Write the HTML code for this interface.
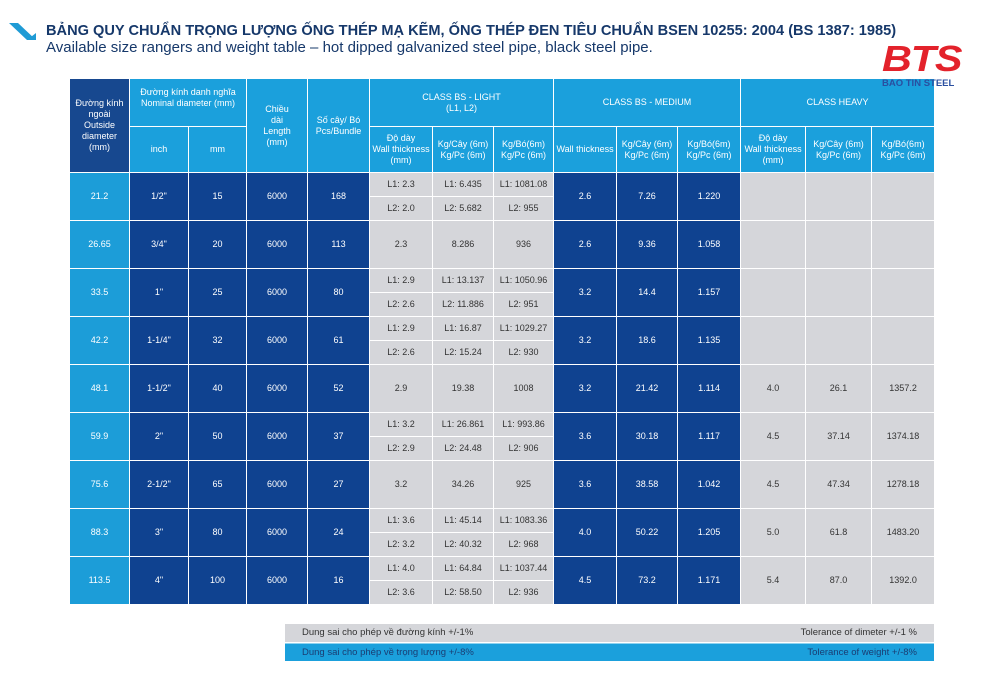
<!DOCTYPE html>
<html><head><meta charset="utf-8"><style>
body{margin:0;width:994px;height:686px;background:#fff;position:relative;overflow:hidden;font-family:"Liberation Sans Narrow","Liberation Sans",sans-serif}
.t1{position:absolute;left:46px;top:23px;font:bold 14.6px "Liberation Sans",sans-serif;color:#16386a;white-space:nowrap;letter-spacing:0px}
.t2{position:absolute;left:46px;top:39px;font:15px "Liberation Sans",sans-serif;color:#16386a;white-space:nowrap}
table{position:absolute;left:69px;top:78px;border-collapse:collapse;table-layout:fixed;width:865px}
td{border:1px solid rgba(255,255,255,.55);text-align:center;vertical-align:middle;font-size:9px;color:#fff;padding:0;line-height:11px;overflow:hidden}
.h{background:#1ba0dc}.hd{background:#17488f}
.o{background:#1c9dd8}.n{background:#0f4290}
.g{background:#d5d6da;color:#333}
.hv{background:#d5d6da;color:#333}
.foot{position:absolute;left:285px;width:649px;height:18px;font-size:9.5px;line-height:18px;box-sizing:border-box;padding:0 17px}
.logo{position:absolute;z-index:5}
</style></head><body>
<svg style="position:absolute;left:9px;top:23px" width="28" height="18"><polygon points="0,0 9,0 27,17 18,17" fill="#1f9bd5"/><polygon points="18,17 27,17 27,10" fill="#1f9bd5"/></svg>
<div class="t1">BẢNG QUY CHUẨN TRỌNG LƯỢNG ỐNG THÉP MẠ KẼM, ỐNG THÉP ĐEN TIÊU CHUẨN BSEN 10255: 2004 (BS 1387: 1985)</div>
<div class="t2">Available size rangers and weight table – hot dipped galvanized steel pipe, black steel pipe.</div>
<table>
<colgroup><col style="width:60px"><col style="width:59px"><col style="width:58px"><col style="width:61px"><col style="width:62px"><col style="width:63px"><col style="width:61px"><col style="width:60px"><col style="width:63px"><col style="width:61px"><col style="width:63px"><col style="width:65px"><col style="width:66px"><col style="width:63px"></colgroup>
<tr style="height:48px"><td class="hd" rowspan="2">Đường kính ngoài<br>Outside diameter<br>(mm)</td><td class="h" colspan="2" style="vertical-align:top;padding-top:8px">Đường kính danh nghĩa<br>Nominal diameter (mm)</td><td class="h" rowspan="2">Chiều<br>dài<br>Length<br>(mm)</td><td class="h" rowspan="2">Số cây/ Bó<br>Pcs/Bundle</td><td class="h" colspan="3">CLASS BS - LIGHT<br>(L1, L2)</td><td class="h" colspan="3">CLASS BS - MEDIUM</td><td class="h" colspan="3">CLASS HEAVY</td></tr>
<tr style="height:46px"><td class="h">inch</td><td class="h">mm</td><td class="h">Độ dày<br>Wall thickness<br>(mm)</td><td class="h">Kg/Cây (6m)<br>Kg/Pc (6m)</td><td class="h">Kg/Bó(6m)<br>Kg/Pc (6m)</td><td class="h">Wall thickness</td><td class="h">Kg/Cây (6m)<br>Kg/Pc (6m)</td><td class="h">Kg/Bó(6m)<br>Kg/Pc (6m)</td><td class="h">Độ dày<br>Wall thickness<br>(mm)</td><td class="h">Kg/Cây (6m)<br>Kg/Pc (6m)</td><td class="h">Kg/Bó(6m)<br>Kg/Pc (6m)</td></tr>

<tr style="height:24px"><td class="o" rowspan="2">21.2</td><td class="n" rowspan="2">1/2"</td><td class="n" rowspan="2">15</td><td class="n" rowspan="2">6000</td><td class="n" rowspan="2">168</td><td class="g">L1: 2.3</td><td class="g">L1: 6.435</td><td class="g">L1: 1081.08</td><td class="n" rowspan="2">2.6</td><td class="n" rowspan="2">7.26</td><td class="n" rowspan="2">1.220</td><td class="hv" rowspan="2"></td><td class="hv" rowspan="2"></td><td class="hv" rowspan="2"></td></tr>
<tr style="height:24px"><td class="g">L2: 2.0</td><td class="g">L2: 5.682</td><td class="g">L2: 955</td></tr>

<tr style="height:48px"><td class="o">26.65</td><td class="n">3/4"</td><td class="n">20</td><td class="n">6000</td><td class="n">113</td><td class="g">2.3</td><td class="g">8.286</td><td class="g">936</td><td class="n">2.6</td><td class="n">9.36</td><td class="n">1.058</td><td class="hv"></td><td class="hv"></td><td class="hv"></td></tr>

<tr style="height:24px"><td class="o" rowspan="2">33.5</td><td class="n" rowspan="2">1"</td><td class="n" rowspan="2">25</td><td class="n" rowspan="2">6000</td><td class="n" rowspan="2">80</td><td class="g">L1: 2.9</td><td class="g">L1: 13.137</td><td class="g">L1: 1050.96</td><td class="n" rowspan="2">3.2</td><td class="n" rowspan="2">14.4</td><td class="n" rowspan="2">1.157</td><td class="hv" rowspan="2"></td><td class="hv" rowspan="2"></td><td class="hv" rowspan="2"></td></tr>
<tr style="height:24px"><td class="g">L2: 2.6</td><td class="g">L2: 11.886</td><td class="g">L2: 951</td></tr>

<tr style="height:24px"><td class="o" rowspan="2">42.2</td><td class="n" rowspan="2">1-1/4"</td><td class="n" rowspan="2">32</td><td class="n" rowspan="2">6000</td><td class="n" rowspan="2">61</td><td class="g">L1: 2.9</td><td class="g">L1: 16.87</td><td class="g">L1: 1029.27</td><td class="n" rowspan="2">3.2</td><td class="n" rowspan="2">18.6</td><td class="n" rowspan="2">1.135</td><td class="hv" rowspan="2"></td><td class="hv" rowspan="2"></td><td class="hv" rowspan="2"></td></tr>
<tr style="height:24px"><td class="g">L2: 2.6</td><td class="g">L2: 15.24</td><td class="g">L2: 930</td></tr>

<tr style="height:48px"><td class="o">48.1</td><td class="n">1-1/2"</td><td class="n">40</td><td class="n">6000</td><td class="n">52</td><td class="g">2.9</td><td class="g">19.38</td><td class="g">1008</td><td class="n">3.2</td><td class="n">21.42</td><td class="n">1.114</td><td class="hv">4.0</td><td class="hv">26.1</td><td class="hv">1357.2</td></tr>

<tr style="height:24px"><td class="o" rowspan="2">59.9</td><td class="n" rowspan="2">2"</td><td class="n" rowspan="2">50</td><td class="n" rowspan="2">6000</td><td class="n" rowspan="2">37</td><td class="g">L1: 3.2</td><td class="g">L1: 26.861</td><td class="g">L1: 993.86</td><td class="n" rowspan="2">3.6</td><td class="n" rowspan="2">30.18</td><td class="n" rowspan="2">1.117</td><td class="hv" rowspan="2">4.5</td><td class="hv" rowspan="2">37.14</td><td class="hv" rowspan="2">1374.18</td></tr>
<tr style="height:24px"><td class="g">L2: 2.9</td><td class="g">L2: 24.48</td><td class="g">L2: 906</td></tr>

<tr style="height:48px"><td class="o">75.6</td><td class="n">2-1/2"</td><td class="n">65</td><td class="n">6000</td><td class="n">27</td><td class="g">3.2</td><td class="g">34.26</td><td class="g">925</td><td class="n">3.6</td><td class="n">38.58</td><td class="n">1.042</td><td class="hv">4.5</td><td class="hv">47.34</td><td class="hv">1278.18</td></tr>

<tr style="height:24px"><td class="o" rowspan="2">88.3</td><td class="n" rowspan="2">3"</td><td class="n" rowspan="2">80</td><td class="n" rowspan="2">6000</td><td class="n" rowspan="2">24</td><td class="g">L1: 3.6</td><td class="g">L1: 45.14</td><td class="g">L1: 1083.36</td><td class="n" rowspan="2">4.0</td><td class="n" rowspan="2">50.22</td><td class="n" rowspan="2">1.205</td><td class="hv" rowspan="2">5.0</td><td class="hv" rowspan="2">61.8</td><td class="hv" rowspan="2">1483.20</td></tr>
<tr style="height:24px"><td class="g">L2: 3.2</td><td class="g">L2: 40.32</td><td class="g">L2: 968</td></tr>

<tr style="height:24px"><td class="o" rowspan="2">113.5</td><td class="n" rowspan="2">4"</td><td class="n" rowspan="2">100</td><td class="n" rowspan="2">6000</td><td class="n" rowspan="2">16</td><td class="g">L1: 4.0</td><td class="g">L1: 64.84</td><td class="g">L1: 1037.44</td><td class="n" rowspan="2">4.5</td><td class="n" rowspan="2">73.2</td><td class="n" rowspan="2">1.171</td><td class="hv" rowspan="2">5.4</td><td class="hv" rowspan="2">87.0</td><td class="hv" rowspan="2">1392.0</td></tr>
<tr style="height:24px"><td class="g">L2: 3.6</td><td class="g">L2: 58.50</td><td class="g">L2: 936</td></tr>
</table>
<div class="logo" style="left:882px;top:39px;font:italic bold 36px 'Liberation Sans',sans-serif;color:#e3222b;letter-spacing:-1px;line-height:40px;transform:scaleX(1.15);transform-origin:left">BTS</div>
<div class="logo" style="left:882px;top:79px;font:bold 9.5px 'Liberation Sans',sans-serif;color:#2a4fa0;line-height:10px">BAO TIN STEEL</div>
<div class="foot" style="top:624px;background:#d5d6da;color:#333"><span>Dung sai cho phép về đường kính +/-1%</span><span style="float:right">Tolerance of dimeter +/-1 %</span></div>
<div class="foot" style="top:643px;background:#1ba0dc;color:#1a3d73;border-top:1px solid #8fd3f0"><span>Dung sai cho phép về trọng lượng +/-8%</span><span style="float:right">Tolerance of weight +/-8%</span></div>
</body></html>
